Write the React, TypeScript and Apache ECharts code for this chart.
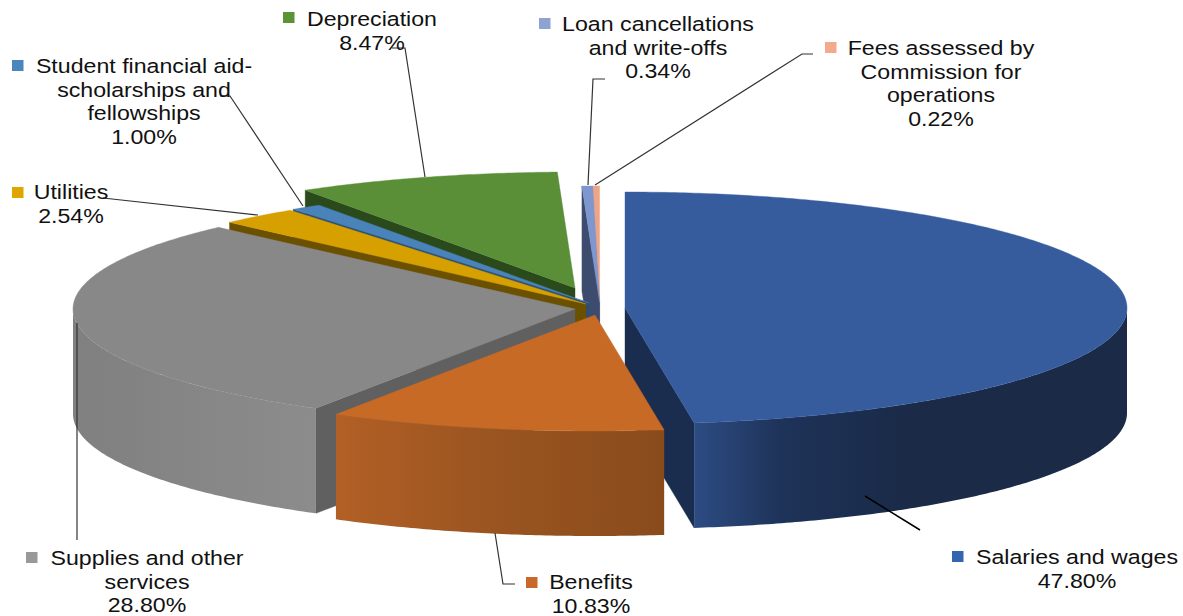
import React, { useEffect, useRef } from "react";
import * as echarts from "echarts";

// ---- data ----
const names = [
  "Salaries and wages",
  "Benefits",
  "Supplies and other\nservices",
  "Utilities",
  "Student financial aid-\nscholarships and\nfellowships",
  "Depreciation",
  "Loan cancellations\nand write-offs",
  "Fees assessed by\nCommission for\noperations",
];
const values = [47.8, 10.83, 28.8, 2.54, 1.0, 8.47, 0.34, 0.22];

// ---- styles / layout ----
const RX = 502;
const RY = 116;
const DEPTH = 105;
const sliceCentres = [
  [625, 308], [595, 315], [575, 309], [586, 304],
  [589, 303], [575, 288], [599.6, 302], [599.6, 302],
];
const drawOrder = [7, 6, 5, 4, 3, 2, 0, 1];
const topColors = ["#365c9e", "#c66a25", "#888888", "#d6a000", "#4a82ba", "#5a8f37", "#7e97cf", "#eda487"];
const faceColors = ["#1a2d4f", "#8a4b1c", "#606060", "#6b5000", "#2c4f72", "#2a4a1c", "#3d4b6e", "#8a5f4e"];
const wallStops: string[][] = [
  ["#2d4c83", "#1e3359", "#1a2a47", "#1a2a47"],
  ["#b26026", "#a85b23", "#995420", "#8a4b1c"],
  ["#808080", "#828282", "#868686", "#8c8c8c"],
  ["#6b5000", "#6b5000", "#6b5000", "#6b5000"],
  ["#2c4f72", "#2c4f72", "#2c4f72", "#2c4f72"],
  ["#2a4a1c", "#2a4a1c", "#2a4a1c", "#2a4a1c"],
  ["#3d4b6e", "#3d4b6e", "#3d4b6e", "#3d4b6e"],
  ["#8a5f4e", "#8a5f4e", "#8a5f4e", "#8a5f4e"],
];
const keyColors = ["#3465b0", "#c9682a", "#999999", "#dfa500", "#4a85be", "#5b9337", "#8fa2d4", "#f2a98c"];
// label centre x, first-line centre y, key x, key y
const labelLayout = [
  [1077, 557, 952, 551],
  [591, 582, 526, 577],
  [147, 558, 26, 552],
  [71, 192, 12, 187],
  [144, 66, 12, 60],
  [372, 19, 283, 12],
  [658, 24, 539, 18],
  [941, 48, 825, 42],
];
const leaderLines: number[][][] = [
  [[865, 496], [920, 530]],
  [[495, 533], [503, 584], [515, 584]],
  [[77, 323], [77, 540]],
  [[103, 198], [258, 215]],
  [[220, 96], [230, 96], [303, 206]],
  [[392, 48], [405, 48], [425, 177]],
  [[605, 79], [593, 79], [588, 185]],
  [[813, 54], [802, 54], [595, 185]],
];

const FONT = '"Liberation Sans", Arial, sans-serif';
const FONT_SIZE = 20.5;
const TEXT_STRETCH = 1.13;
const LINE_H = 23.7;
const total = values.reduce((a, b) => a + b, 0);
const cumulative = values.map((_, i) => values.slice(0, i).reduce((a, b) => a + b, 0));

function pt(c: number[], t: number, dy = 0): number[] {
  return [c[0] + RX * Math.sin(t), c[1] - RY * Math.cos(t) + dy];
}
function arc(c: number[], a: number, b: number, dy = 0): number[][] {
  const n = Math.max(2, Math.ceil(Math.abs(b - a) / 0.01));
  const out: number[][] = [];
  for (let i = 0; i <= n; i++) out.push(pt(c, a + ((b - a) * i) / n, dy));
  return out;
}

function renderItem(_params: any, api: any) {
  const i = api.value(2);
  const t0 = (api.value(1) / total) * Math.PI * 2;
  const t1 = ((api.value(1) + api.value(0)) / total) * Math.PI * 2;
  const c = sliceCentres[i];
  const children: any[] = [];
  const poly = (points: number[][], fill: any, stroke?: string) => ({
    type: "polygon",
    shape: { points },
    style: { fill, stroke: stroke || fill, lineWidth: 0.4 },
  });
  // cut faces that turn towards the viewer
  if (Math.sin(t0) < 0) {
    const p = pt(c, t0);
    children.push(poly([p, c, [c[0], c[1] + DEPTH], [p[0], p[1] + DEPTH]], faceColors[i]));
  }
  if (Math.sin(t1) > 0) {
    const p = pt(c, t1);
    children.push(poly([c, p, [p[0], p[1] + DEPTH], [c[0], c[1] + DEPTH]], faceColors[i]));
  }
  // outer wall, front half only
  const a = Math.max(t0, Math.PI / 2);
  const b = Math.min(t1, (Math.PI * 3) / 2);
  if (b > a) {
    const s = wallStops[i];
    const fill = new echarts.graphic.LinearGradient(0, 0, 1, 0, [
      { offset: 0, color: s[0] },
      { offset: 0.2, color: s[1] },
      { offset: 0.5, color: s[2] },
      { offset: 1, color: s[3] },
    ]);
    const top = arc(c, a, b);
    const bottom = arc(c, b, a, DEPTH);
    children.push(poly(top.concat(bottom), fill, "none"));
  }
  // top surface
  children.push(poly([c].concat(arc(c, t0, t1)), topColors[i]));
  return { type: "group", children };
}

export default function App() {
  const ref = useRef<HTMLDivElement>(null);
  useEffect(() => {
    document.body.style.margin = "0";
    document.body.style.background = "#ffffff";
    const chart = echarts.init(ref.current!, undefined, { renderer: "svg" });
    const elements: any[] = [];
    leaderLines.forEach((pts, i) => {
      elements.push({
        type: "polyline",
        z: 10,
        shape: { points: pts },
        style: { stroke: i === 0 ? "#000000" : "#333333", lineWidth: i === 0 ? 1.5 : 1.2, fill: "none" },
      });
    });
    names.forEach((name, i) => {
      const [cx, y, kx, ky] = labelLayout[i];
      elements.push({
        type: "rect",
        z: 11,
        shape: { x: kx, y: ky, width: 11.5, height: 11 },
        style: { fill: keyColors[i] },
      });
      elements.push({
        type: "text",
        z: 12,
        x: cx,
        y: y - LINE_H / 2,
        scaleX: TEXT_STRETCH,
        style: {
          text: name + "\n" + values[i].toFixed(2) + "%",
          fill: "#111111",
          font: `${FONT_SIZE}px ${FONT}`,
          lineHeight: LINE_H,
          align: "center",
          verticalAlign: "top",
        },
      });
    });
    chart.setOption({
      animation: false,
      backgroundColor: "#ffffff",
      series: [
        {
          type: "custom",
          coordinateSystem: "none",
          silent: true,
          renderItem,
          data: drawOrder.map((i) => [values[i], cumulative[i], i]),
        },
      ],
      graphic: { elements },
    });
    return () => chart.dispose();
  }, []);
  return (
    <div
      ref={ref}
      style={{ position: "absolute", left: 0, top: 0, width: 1183, height: 616 }}
    />
  );
}
